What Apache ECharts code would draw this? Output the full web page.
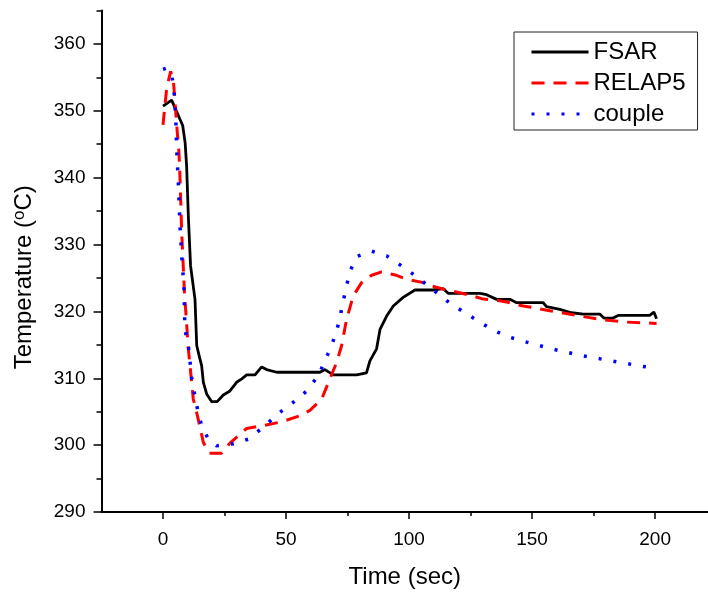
<!DOCTYPE html>
<html>
<head>
<meta charset="utf-8">
<script src="https://cdn.jsdelivr.net/npm/echarts@6/dist/echarts.min.js"></script>
<style>
  html, body { margin: 0; padding: 0; background: #fff; }
  #chart { width: 708px; height: 594px; }
</style>
</head>
<body>
<div id="chart"></div>
<script>
"use strict";

// tick labels
var xTicks = [0, 50, 100, 150, 200];
var xMinorTicks = [25, 75, 125, 175];
var yTicks = [290, 300, 310, 320, 330, 340, 350, 360];
var yMinorTicks = [295, 305, 315, 325, 335, 345, 355, 365];

// FSAR (solid black)
var fsarTime = [0, 3.5, 8, 9, 9.6, 10.3, 11.2, 13, 13.7, 15, 15.7, 16.4, 17.8, 19.8, 22, 24.5, 27.2, 29.9, 32, 34, 37.4, 40.1, 42.1, 46.2, 55.7, 61, 63.8, 65.8, 69.2, 78.7, 82.7, 84.1, 86.8, 88.2, 90.9, 93.6, 97.6, 102.4, 109.8, 113.9, 115.9, 128.8, 131.5, 135.6, 141, 143.7, 154.5, 155.9, 161.3, 166, 170.8, 177.5, 179.2, 182.9, 185, 197.8, 199.5, 200.6];
var fsarTemp = [350.7, 351.6, 347.8, 345.2, 341.7, 334.2, 326.8, 321.8, 314.9, 312.9, 311.9, 309.4, 307.6, 306.5, 306.5, 307.5, 308.1, 309.4, 309.9, 310.5, 310.5, 311.7, 311.3, 310.9, 310.9, 310.9, 310.9, 311.3, 310.5, 310.5, 310.8, 312.6, 314.4, 317.3, 319.3, 320.8, 322.1, 323.2, 323.2, 323.4, 322.7, 322.7, 322.5, 321.8, 321.8, 321.3, 321.3, 320.7, 320.3, 319.8, 319.6, 319.6, 319.0, 319.0, 319.4, 319.4, 319.9, 318.9];

// RELAP5 (dashed red)
var relapTime = [0, 1.5, 3.1, 4.2, 4.9, 5.6, 6.5, 6.9, 7.6, 8.7, 10.3, 12.3, 14.3, 16.4, 18.8, 23.8, 27.2, 34, 40.3, 48.4, 55.7, 59.7, 64.5, 67.8, 70.6, 72.6, 74.6, 77.3, 80.7, 84.8, 88.9, 94.9, 99, 105.8, 109.2, 115.3, 119.3, 126.1, 129.5, 136.9, 139.6, 146.4, 149.8, 157.2, 168.1, 177.5, 188.4, 200.6];
var relapTemp = [347.9, 353.4, 355.9, 354.6, 351.2, 347.7, 343.7, 340.0, 331.8, 322.9, 314.4, 306.9, 303.9, 300.4, 298.8, 298.8, 300.3, 302.5, 302.9, 303.5, 304.4, 305.2, 306.9, 309.9, 312.4, 314.9, 318.8, 322.3, 324.3, 325.4, 325.9, 325.4, 324.8, 324.3, 323.8, 323.2, 322.9, 322.3, 321.9, 321.6, 321.4, 320.8, 320.6, 320.1, 319.4, 318.8, 318.4, 318.2];

// couple (dotted blue)
var coupleTime = [0, 1.5, 3.7, 4.5, 5.2, 5.6, 6.2, 6.9, 7.6, 8.5, 8.9, 10.3, 11.7, 13.7, 15.7, 18.4, 21.8, 28.6, 34.7, 40.8, 46.8, 52.9, 58.4, 63.1, 65.8, 68.5, 70.6, 71.9, 73.3, 74.6, 76, 78.7, 84.8, 90.9, 97, 103.1, 109.2, 115.3, 121.4, 127.5, 133.6, 139.6, 145.7, 151.8, 157.9, 164, 170.1, 176.2, 182.3, 188.4, 194.5, 200.3];
var coupleTemp = [356.2, 356.4, 355.0, 352.9, 348.7, 343.9, 339.5, 332.8, 328.3, 323.8, 317.3, 314.9, 309.9, 305.9, 302.9, 300.9, 299.9, 300.2, 300.9, 302.7, 304.7, 306.4, 308.1, 310.4, 312.6, 314.9, 317.1, 319.1, 321.6, 323.8, 326.0, 328.2, 329.0, 328.3, 326.8, 325.2, 323.4, 321.6, 320.1, 318.7, 317.3, 316.3, 315.6, 315.0, 314.4, 313.9, 313.4, 313.0, 312.6, 312.2, 311.8, 311.5];

function pairs(xs, ys) {
    return xs.map(function (x, i) { return [x, ys[i]]; });
}

var font = '"Liberation Sans", Arial, sans-serif';
var axisLine = { show: true, onZero: false, lineStyle: { color: '#000', width: 2 } };

var chart = echarts.init(document.getElementById('chart'), null, { renderer: 'canvas' });

chart.setOption({
    backgroundColor: '#fff',
    animation: false,
    grid: { left: 101.5, right: 0, top: 10.5, bottom: 77.7 },
    legend: {
        orient: 'vertical',
        left: 514,
        top: 32,
        padding: [8, 12, 4, 16],
        itemGap: 7,
        itemWidth: 57,
        itemHeight: 14,
        borderColor: '#222',
        borderWidth: 1,
        borderRadius: 0,
        itemStyle: { opacity: 0 },
        lineStyle: { width: 3 },
        textStyle: { fontFamily: font, fontSize: 24, color: '#000' },
        data: ['FSAR', 'RELAP5', 'couple']
    },
    xAxis: [{
        type: 'value',
        min: -25,
        max: 221.5,
        position: 'bottom',
        name: 'Time (sec)',
        nameLocation: 'middle',
        nameGap: 53,
        nameTextStyle: { fontFamily: font, fontSize: 24, color: '#000' },
        axisLine: axisLine,
        axisTick: { show: true, customValues: xTicks, length: 7, lineStyle: { color: '#000', width: 1.5 } },
        axisLabel: { customValues: xTicks, fontFamily: font, fontSize: 19, color: '#000', margin: 18 },
        splitLine: { show: false }
    }, {
        type: 'value',
        min: -25,
        max: 221.5,
        position: 'bottom',
        axisLine: { show: false, onZero: false },
        axisTick: { show: true, customValues: xMinorTicks, length: 4, lineStyle: { color: '#000', width: 1.5 } },
        axisLabel: { show: false },
        splitLine: { show: false }
    }],
    yAxis: [{
        type: 'value',
        min: 290,
        max: 365,
        position: 'left',
        name: 'Temperature ({sup|o}C)',
        nameLocation: 'middle',
        nameRotate: 90,
        nameGap: 64,
        nameTextStyle: {
            fontFamily: font, fontSize: 24, color: '#000',
            padding: [0, 32, 0, 0],
            rich: { sup: { fontFamily: font, fontSize: 17, color: '#000', verticalAlign: 'top', padding: [0, 0, 10, 0] } }
        },
        axisLine: axisLine,
        axisTick: { show: true, customValues: yTicks, length: 8, lineStyle: { color: '#000', width: 1.5 } },
        axisLabel: { customValues: yTicks, fontFamily: font, fontSize: 19, color: '#000', margin: 16 },
        splitLine: { show: false }
    }, {
        type: 'value',
        min: 290,
        max: 365,
        position: 'left',
        axisLine: { show: false, onZero: false },
        axisTick: { show: true, customValues: yMinorTicks, length: 5, lineStyle: { color: '#000', width: 1.5 } },
        axisLabel: { show: false },
        splitLine: { show: false }
    }],
    series: [{
        name: 'FSAR',
        type: 'line',
        symbol: 'none',
        color: '#000',
        lineStyle: { color: '#000', width: 2.8 },
        data: pairs(fsarTime, fsarTemp)
    }, {
        name: 'RELAP5',
        type: 'line',
        symbol: 'none',
        color: '#ff0000',
        lineStyle: { color: '#ff0000', width: 3, type: [13, 9] },
        data: pairs(relapTime, relapTemp)
    }, {
        name: 'couple',
        type: 'line',
        symbol: 'none',
        color: '#0000ff',
        lineStyle: { color: '#0000ff', width: 3.5, type: [3, 12] },
        data: pairs(coupleTime, coupleTemp)
    }]
});
</script>
</body>
</html>
